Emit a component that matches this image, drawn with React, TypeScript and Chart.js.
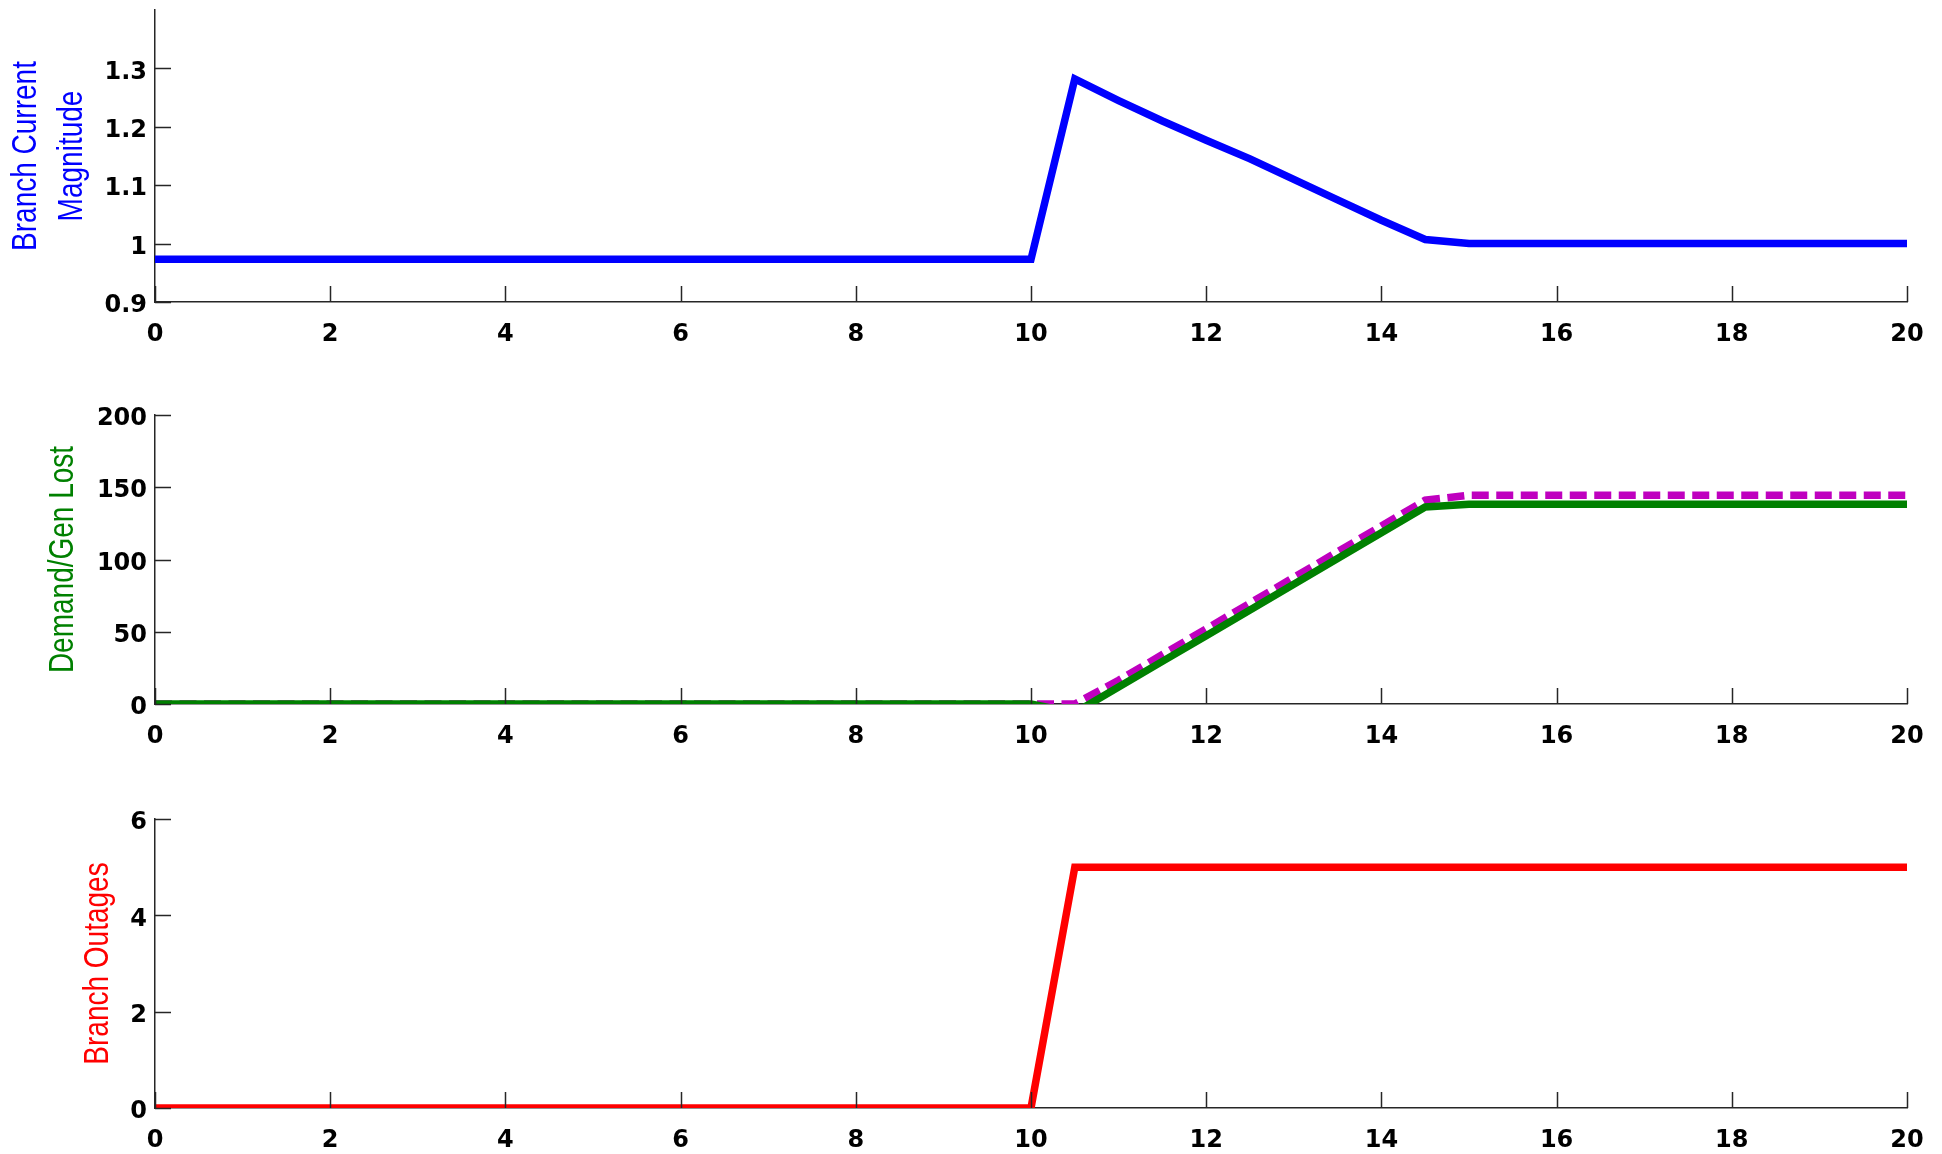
import React, { useEffect, useRef } from "react";
import { Chart, registerables } from "chart.js";

Chart.register(...registerables);

// ---- data ----
const timeTop = [0, 10, 10.5, 11, 11.5, 12, 12.5, 13, 13.5, 14, 14.5, 15, 20];
const branchCurrent = [0.973, 0.973, 1.282, 1.245, 1.21, 1.177, 1.145, 1.11, 1.075, 1.04, 1.007, 1.0, 1.0];

const timeMid = [0, 10, 10.5, 11, 11.5, 12, 12.5, 13, 13.5, 14, 14.5, 15, 20];
const demandLost = [0, 0, -6, 11.7, 29.5, 47.3, 65.1, 82.9, 100.7, 118.5, 136.4, 138.3, 138.3];
const genLost = [0, 0, 0, 16.4, 34.2, 52, 69.8, 87.6, 105.4, 123.2, 141, 144.5, 144.5];

const timeBot = [0, 10, 10.5, 20];
const branchOutages = [0, 0, 5, 5];

const xTicks = [0, 2, 4, 6, 8, 10, 12, 14, 16, 18, 20];
const yTicksTop = [0.9, 1.0, 1.1, 1.2, 1.3];
const yTicksMid = [0, 50, 100, 150, 200];
const yTicksBot = [0, 2, 4, 6];

const titleTop = ["Branch Current", "Magnitude"];
const titleMid = ["Demand/Gen Lost"];
const titleBot = ["Branch Outages"];

const AXIS_COLOR = "#262626";
const TICK_FONT = { family: "'DejaVu Sans'", size: 24, weight: "bold" as const };
const TITLE_FONT = "28px 'Liberation Sans', Arial, sans-serif";

const pts = (xs: number[], ys: number[]) => xs.map((x, i) => ({ x, y: ys[i] }));

const inwardTicks = {
  id: "inwardTicks",
  afterDatasetsDraw(chart: any) {
    const { ctx, chartArea } = chart;
    const xs = chart.scales.x;
    const ys = chart.scales.y;
    ctx.save();
    ctx.strokeStyle = AXIS_COLOR;
    ctx.lineWidth = 1.5;
    ctx.beginPath();
    xs.ticks.forEach((t: any) => {
      const p = Math.round(xs.getPixelForValue(t.value)) + 0.5;
      ctx.moveTo(p, chartArea.bottom);
      ctx.lineTo(p, chartArea.bottom - 16);
    });
    ys.ticks.forEach((t: any) => {
      const p = Math.round(ys.getPixelForValue(t.value)) + 0.5;
      ctx.moveTo(chartArea.left, p);
      ctx.lineTo(chartArea.left + 16, p);
    });
    ctx.stroke();
    ctx.restore();
  },
};

// y-axis title drawn as real (rotated) text, slightly widened like the reference
const yTitle = {
  id: "yTitle",
  afterDraw(chart: any, _args: any, opts: any) {
    const { ctx, chartArea } = chart;
    const cy = (chartArea.top + chartArea.bottom) / 2;
    ctx.save();
    ctx.fillStyle = opts.color;
    ctx.font = TITLE_FONT;
    ctx.textAlign = "center";
    ctx.textBaseline = "middle";
    (opts.lines as string[]).forEach((line, i) => {
      ctx.save();
      ctx.translate(opts.centers[i], cy);
      ctx.scale(1.22, 1);
      ctx.rotate(-Math.PI / 2);
      ctx.fillText(line, 0, 0);
      ctx.restore();
    });
    ctx.restore();
  },
};

type Spec = {
  top: number;
  height: number;
  padTop: number;
  xHeight: number;
  yMin: number;
  yMax: number;
  yTicks: number[];
  title: string[];
  titleColor: string;
  titleCenters: number[];
  datasets: any[];
  fmt: (v: number) => string;
};

function Panel({ spec }: { spec: Spec }) {
  const ref = useRef<HTMLCanvasElement>(null);
  useEffect(() => {
    if (!ref.current) return;
    const chart = new Chart(ref.current, {
      type: "line",
      data: { datasets: spec.datasets },
      plugins: [inwardTicks, yTitle],
      options: {
        animation: false,
        responsive: false,
        layout: { padding: { left: 0, right: 35, top: spec.padTop, bottom: 0 } },
        plugins: {
          legend: { display: false },
          tooltip: { enabled: false },
          yTitle: { lines: spec.title, color: spec.titleColor, centers: spec.titleCenters },
        } as any,
        elements: { point: { radius: 0 } },
        scales: {
          x: {
            type: "linear",
            min: 0,
            max: 20,
            grid: { display: false, drawTicks: false },
            border: { display: true, color: AXIS_COLOR, width: 1.5 },
            afterBuildTicks: (s: any) => {
              s.ticks = xTicks.map((v) => ({ value: v }));
            },
            afterFit: (s: any) => {
              s.height = spec.xHeight;
              s.paddingLeft = 0;
              s.paddingRight = 0;
            },
            ticks: {
              font: TICK_FONT,
              color: "#000",
              padding: 18,
              maxRotation: 0,
              autoSkip: false,
              callback: (v: any) => String(v),
            },
          },
          y: {
            type: "linear",
            min: spec.yMin,
            max: spec.yMax,
            grid: { display: false, drawTicks: false },
            border: { display: true, color: AXIS_COLOR, width: 1.5 },
            afterBuildTicks: (s: any) => {
              s.ticks = spec.yTicks.map((v) => ({ value: v }));
            },
            afterFit: (s: any) => {
              s.width = 155;
              s.paddingTop = 0;
              s.paddingBottom = 0;
            },
            ticks: {
              font: TICK_FONT,
              color: "#000",
              padding: 8,
              labelOffset: 4,
              autoSkip: false,
              callback: (v: any) => spec.fmt(Number(v)),
            },
          },
        },
      },
    });
    return () => chart.destroy();
  }, [spec]);
  return (
    <canvas
      ref={ref}
      width={1942}
      height={spec.height}
      style={{ position: "absolute", left: 0, top: spec.top, width: 1942, height: spec.height, display: "block" }}
    />
  );
}

const specs: Spec[] = [
  {
    top: 0,
    height: 360,
    padTop: 10,
    xHeight: 58,
    yMin: 0.9,
    yMax: 1.4,
    yTicks: yTicksTop,
    title: titleTop,
    titleColor: "#0000ff",
    titleCenters: [27, 73],
    fmt: (v) => (Math.abs(v - 1) < 1e-9 ? "1" : v.toFixed(1)),
    datasets: [
      {
        data: pts(timeTop, branchCurrent),
        borderColor: "#0000ff",
        borderWidth: 7.5,
        clip: 0,
      },
    ],
  },
  {
    top: 370,
    height: 400,
    padTop: 45,
    xHeight: 66,
    yMin: 0,
    yMax: 200,
    yTicks: yTicksMid,
    title: titleMid,
    titleColor: "#008000",
    titleCenters: [64],
    fmt: (v) => String(v),
    datasets: [
      {
        data: pts(timeMid, demandLost),
        borderColor: "#008000",
        borderWidth: 7.5,
        clip: 0,
        order: 0,
      },
      {
        data: pts(timeMid, genLost),
        borderColor: "#bf00bf",
        borderWidth: 7.5,
        borderDash: [17, 7.5],
        clip: 0,
        order: 1,
      },
    ],
  },
  {
    top: 780,
    height: 374,
    padTop: 39,
    xHeight: 46,
    yMin: 0,
    yMax: 6,
    yTicks: yTicksBot,
    title: titleBot,
    titleColor: "#ff0000",
    titleCenters: [99],
    fmt: (v) => String(v),
    datasets: [
      {
        data: pts(timeBot, branchOutages),
        borderColor: "#ff0000",
        borderWidth: 7.5,
        clip: 0,
      },
    ],
  },
];

export default function App() {
  return (
    <div style={{ position: "absolute", left: 0, top: 0, width: 1942, height: 1154, background: "#fff", overflow: "hidden" }}>
      {specs.map((s, i) => (
        <Panel key={i} spec={s} />
      ))}
    </div>
  );
}
